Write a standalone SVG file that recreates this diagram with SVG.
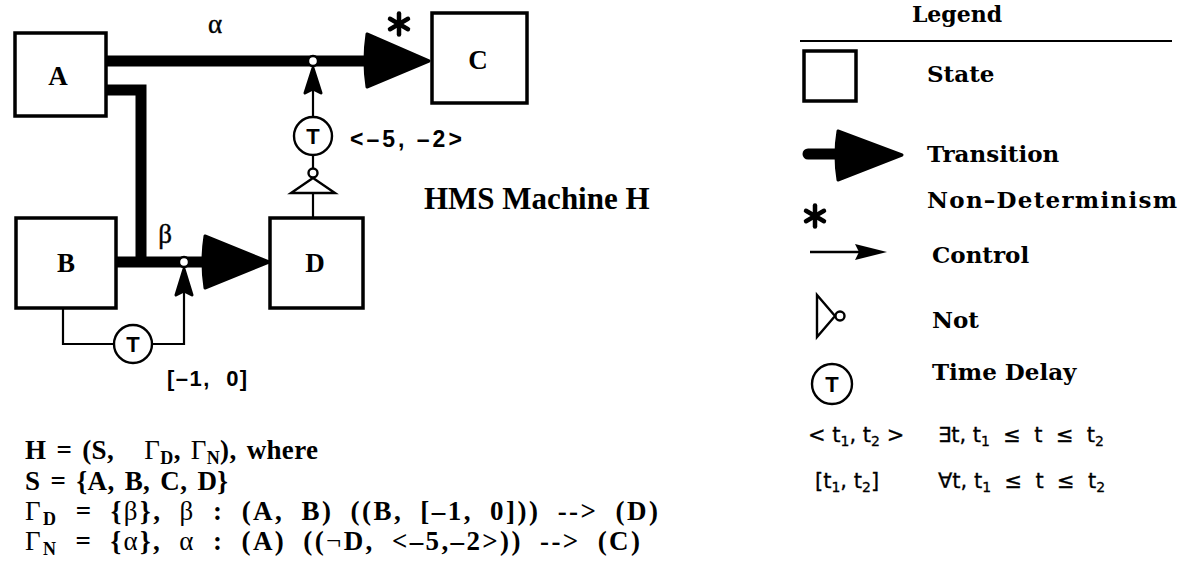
<svg xmlns="http://www.w3.org/2000/svg" width="1190" height="568" viewBox="0 0 1190 568">
  <defs>
    <style>
      .state { fill: #fff; stroke: #000; stroke-width: 3.5; }
      .thick { fill: none; stroke: #000; stroke-width: 11; stroke-linejoin: miter; }
      .thin { fill: none; stroke: #000; stroke-width: 2.2; }
      .head { fill: #000; stroke: #000; stroke-width: 3; stroke-linejoin: round; }
      .dot { fill: #fff; stroke: #000; stroke-width: 2.4; }
      .delay { fill: #fff; stroke: #000; stroke-width: 2.4; }
      .not { fill: #fff; stroke: #000; stroke-width: 2.4; stroke-linejoin: miter; }
      .star { stroke: #000; stroke-width: 4.5; stroke-linecap: round; }
      .lbl { font-family: "Liberation Serif", "Times New Roman", serif; font-weight: bold; font-size: 27px; fill: #000; text-anchor: middle; }
      .greek { font-family: "Liberation Serif", "Times New Roman", serif; font-size: 27px; fill: #000; stroke: #000; stroke-width: 0.4; }
      .tsym { font-family: "Liberation Sans", Arial, sans-serif; font-weight: bold; font-size: 22px; fill: #000; text-anchor: middle; }
      .iv { font-family: "Liberation Sans", Arial, sans-serif; font-weight: bold; font-size: 22px; fill: #000; letter-spacing: 1.5px; }
      .title { font-family: "Liberation Serif", "Times New Roman", serif; font-weight: bold; font-size: 31px; fill: #000; }
      .def { font-family: "Liberation Serif", "Times New Roman", serif; font-weight: bold; font-size: 27px; fill: #000; word-spacing: 3px; }
      .wide { word-spacing: 8px; }
      .gk { font-weight: normal; }
      .sub { font-size: 18px; }
      .leg { font-family: "DejaVu Serif", "Liberation Serif", serif; font-weight: bold; font-size: 23px; fill: #000; }
      .legh { font-family: "DejaVu Serif", "Liberation Serif", serif; font-weight: bold; font-size: 22px; fill: #000; text-anchor: middle; }
      .math { font-family: "DejaVu Sans", "Liberation Sans", sans-serif; font-size: 21px; fill: #000; stroke: #000; stroke-width: 0.3; }
      .msub { font-size: 14px; }
    </style>
  </defs>

  <!-- connectors: transitions, control lines and their decorations -->
  <g id="connectors">
    <!-- alpha: A to C -->
    <line class="thick" x1="106" y1="61" x2="372" y2="61"/>
    <path class="head" d="M367,34 L429,61 L367,87 Q363,61 367,34 Z"/>
    <!-- beta: from A and B to D -->
    <path class="thick" d="M106,90 H141 V262"/>
    <line class="thick" x1="116" y1="262" x2="210" y2="262"/>
    <path class="head" d="M205,236 L269,262 L205,288 Q201,262 205,236 Z"/>

    <!-- control into alpha: D -> not -> delay -> junction -->
    <line class="thin" x1="313" y1="218" x2="313" y2="193"/>
    <polygon class="not" points="313,178 335,193 291,193"/>
    <circle class="dot" cx="313" cy="173" r="4.5"/>
    <line class="thin" x1="313" y1="168" x2="313" y2="155"/>
    <line class="thin" x1="313" y1="117" x2="313" y2="90"/>
    <path class="head" d="M313,68 L321,93 L313,89 L305,93 Z" stroke-width="1.5"/>
    <circle class="dot" cx="313" cy="61" r="5"/>

    <!-- control into beta: B -> delay -> junction -->
    <path class="thin" d="M63,308 V344 H114"/>
    <path class="thin" d="M152,344 H184 V292"/>
    <path class="head" d="M184,269 L192,295 L184,291 L176,295 Z" stroke-width="1.5"/>
    <circle class="dot" cx="184" cy="262" r="5"/>

    <!-- non-determinism mark on alpha -->
    <g id="star-alpha" transform="translate(399,24)">
      <line class="star" x1="0" y1="-10.5" x2="0" y2="10.5"/>
      <line class="star" x1="-9" y1="-5.2" x2="9" y2="5.2"/>
      <line class="star" x1="-9" y1="5.2" x2="9" y2="-5.2"/>
    </g>
    <text class="greek" x="215" y="33" text-anchor="middle">α</text>
    <text class="greek" x="165" y="243" text-anchor="middle">β</text>
  </g>

  <!-- states -->
  <g id="state-A">
    <rect class="state" x="15" y="33" width="91" height="83"/>
    <text class="lbl" x="58" y="85">A</text>
  </g>
  <g id="state-B">
    <rect class="state" x="16" y="218" width="100" height="90"/>
    <text class="lbl" x="66" y="272">B</text>
  </g>
  <g id="state-C">
    <rect class="state" x="432" y="13" width="95" height="90"/>
    <text class="lbl" x="478" y="69">C</text>
  </g>
  <g id="state-D">
    <rect class="state" x="270" y="218" width="93" height="90"/>
    <text class="lbl" x="315" y="272">D</text>
  </g>

  <!-- time delays -->
  <g id="delay-alpha">
    <circle class="delay" cx="313" cy="136" r="19"/>
    <text class="tsym" x="313" y="144">T</text>
    <text class="iv" x="350" y="147" style="font-size:23px;letter-spacing:3px">&lt;–5, –2&gt;</text>
  </g>
  <g id="delay-beta">
    <circle class="delay" cx="133" cy="344" r="19"/>
    <text class="tsym" x="133" y="352">T</text>
    <text class="iv" x="167" y="386" xml:space="preserve">[–1,  0]</text>
  </g>

  <text class="title" x="424" y="209" xml:space="preserve">HMS Machine H</text>

  <!-- formal definition -->
  <g id="definition">
    <text class="def" x="25" y="459" textLength="293" lengthAdjust="spacing" xml:space="preserve">H = (S,   <tspan class="gk">Γ</tspan><tspan class="sub" dy="5">D</tspan><tspan dy="-5">, </tspan><tspan class="gk">Γ</tspan><tspan class="sub" dy="5">N</tspan><tspan dy="-5">), where</tspan></text>
    <text class="def" x="25" y="490" textLength="203" lengthAdjust="spacing">S = {A, B, C, D}</text>
    <text class="def wide" x="25" y="520" textLength="633" lengthAdjust="spacing"><tspan class="gk">Γ</tspan><tspan class="sub" dy="5">D</tspan><tspan dy="-5"> = {</tspan><tspan class="gk">β</tspan>}, <tspan class="gk">β</tspan> : (A, B) ((B, [–1, 0])) --&gt; (D)</text>
    <text class="def wide" x="25" y="550" textLength="615" lengthAdjust="spacing"><tspan class="gk">Γ</tspan><tspan class="sub" dy="5">N</tspan><tspan dy="-5"> = {</tspan><tspan class="gk">α</tspan>}, <tspan class="gk">α</tspan> : (A) ((<tspan class="gk">¬</tspan>D, &lt;–5,–2&gt;)) --&gt; (C)</text>
  </g>

  <!-- legend -->
  <g id="legend">
    <text class="legh" x="957" y="22">Legend</text>
    <line x1="800" y1="41" x2="1172" y2="41" stroke="#000" stroke-width="2"/>

    <rect class="state" x="804" y="51" width="52" height="50"/>
    <text class="leg" x="927" y="82">State</text>

    <line x1="808" y1="154" x2="842" y2="154" stroke="#000" stroke-width="11" stroke-linecap="round"/>
    <path class="head" d="M838,131 L902,155 L838,180 Q834,155 838,131 Z"/>
    <text class="leg" x="927" y="162">Transition</text>

    <g transform="translate(815,216)">
      <line class="star" x1="0" y1="-10.5" x2="0" y2="10.5"/>
      <line class="star" x1="-9" y1="-5.2" x2="9" y2="5.2"/>
      <line class="star" x1="-9" y1="5.2" x2="9" y2="-5.2"/>
    </g>
    <text class="leg" x="927" y="208" textLength="250" lengthAdjust="spacing">Non–Determinism</text>

    <line x1="810" y1="252" x2="862" y2="252" stroke="#000" stroke-width="2.4"/>
    <path d="M887,252 L855,244 L859,252 L855,260 Z" fill="#000"/>
    <text class="leg" x="932" y="263">Control</text>

    <polygon class="not" points="817,295 817,337 835,316"/>
    <circle class="dot" cx="840" cy="316" r="4.5"/>
    <text class="leg" x="932" y="328">Not</text>

    <circle class="delay" cx="832" cy="384" r="20"/>
    <text class="tsym" x="832" y="392">T</text>
    <text class="leg" x="932" y="380">Time Delay</text>

    <text class="math" x="808" y="442" xml:space="preserve">&lt; t<tspan class="msub" dy="4">1</tspan><tspan dy="-4">, t</tspan><tspan class="msub" dy="4">2</tspan><tspan dy="-4"> &gt;</tspan></text>
    <text class="math" x="938" y="442" xml:space="preserve">∃t, t<tspan class="msub" dy="4">1</tspan><tspan dy="-4">  ≤  t  ≤  t</tspan><tspan class="msub" dy="4">2</tspan></text>
    <text class="math" x="815" y="488" xml:space="preserve">[t<tspan class="msub" dy="4">1</tspan><tspan dy="-4">, t</tspan><tspan class="msub" dy="4">2</tspan><tspan dy="-4">]</tspan></text>
    <text class="math" x="938" y="488" xml:space="preserve">∀t, t<tspan class="msub" dy="4">1</tspan><tspan dy="-4">  ≤  t  ≤  t</tspan><tspan class="msub" dy="4">2</tspan></text>
  </g>
</svg>
